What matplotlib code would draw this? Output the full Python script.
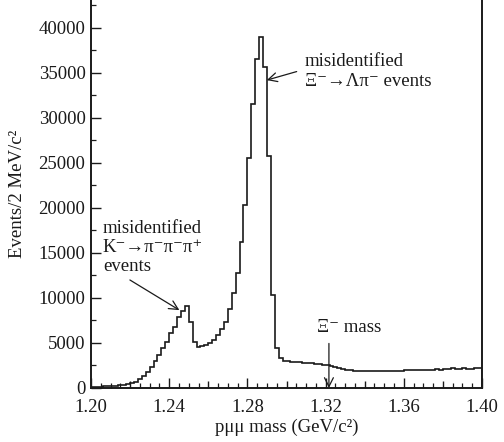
import numpy as np
import matplotlib
matplotlib.use("Agg")
import matplotlib.pyplot as plt
from matplotlib.ticker import MultipleLocator, FuncFormatter

# --- DATA (events per 2 MeV/c^2 bin, 1.20 - 1.40 GeV/c^2) ---
bin_lo = 1.20
bin_width = 0.002
counts = [
    120, 140, 160, 180, 200, 230, 260, 300, 350, 420,
    520, 700, 1000, 1330, 1810, 2370, 3040, 3670, 4410, 5070,
    6070, 6810, 7920, 8590, 9140, 7300, 5070, 4600, 4650, 4780,
    4960, 5330, 5890, 6520, 7370, 8740, 10600, 12740, 16250, 20330,
    25500, 31600, 36600, 39000, 35700, 25800, 10300, 4400, 3300, 3000,
    2950, 2900, 2880, 2850, 2820, 2780, 2750, 2700, 2680, 2600,
    2520, 2420, 2330, 2230, 2120, 2030, 1960, 1920, 1900, 1890,
    1880, 1890, 1870, 1880, 1900, 1880, 1870, 1890, 1880, 1900,
    1950, 1980, 1960, 1990, 2000, 2020, 1990, 2030, 2060, 2050,
    2080, 2110, 2170, 2100, 2130, 2180, 2140, 2120, 2180, 2200,
]
x_ticks = [1.20, 1.24, 1.28, 1.32, 1.36, 1.40]
xi_mass = 1.3217

edges = bin_lo + bin_width * np.arange(len(counts) + 1)

FONT = ['Liberation Serif', 'DejaVu Serif']
INK = '#1a1a1a'
plt.rcParams['font.family'] = FONT

fig = plt.figure(figsize=(5.04, 4.42), dpi=100)
ax = fig.add_axes([91 / 504, 54 / 442, 391 / 504, 388 / 442])

ax.stairs(counts, edges, color=INK, lw=1.2, baseline=0)

ax.set_xlim(1.20, 1.40)
ax.set_ylim(0, 43100)

# --- AXES STYLE ---
ax.spines['top'].set_visible(False)
for s in ['left', 'bottom', 'right']:
    ax.spines[s].set_color(INK)
    ax.spines[s].set_linewidth(1.4)

ax.xaxis.set_major_locator(MultipleLocator(0.02))
ax.xaxis.set_minor_locator(MultipleLocator(0.005))
ax.xaxis.set_major_formatter(FuncFormatter(
    lambda v, p: f"{v:.2f}" if min(abs(v - t) for t in x_ticks) < 1e-6 else ""))
ax.yaxis.set_major_locator(MultipleLocator(5000))
ax.yaxis.set_minor_locator(MultipleLocator(2500))
ax.yaxis.set_major_formatter(FuncFormatter(lambda v, p: f"{int(v)}"))

ax.tick_params(which='both', direction='in', colors=INK, labelsize=13.5,
               top=False, right=False)
ax.tick_params(which='major', length=7, width=1.0)
ax.tick_params(which='minor', length=3.5, width=0.9)
ax.tick_params(axis='x', pad=8)
ax.tick_params(axis='y', pad=4)

fig.canvas.draw()
for t in ax.xaxis.get_major_ticks():
    v = t.get_loc()
    if min(abs(v - tt) for tt in x_ticks) > 1e-6:
        t.tick1line.set_markersize(5)

ax.set_xlabel("pμμ mass (GeV/c²)", fontsize=13.5, color=INK, labelpad=2)
ax.set_ylabel("Events/2 MeV/c²", fontsize=13.5, color=INK, labelpad=9)

# --- ANNOTATIONS ---
arrow = dict(arrowstyle='->', lw=0.9, color=INK, mutation_scale=16,
             shrinkA=0, shrinkB=0)

ax.text(1.3095, 37200, "misidentified\nΞ⁻→Λπ⁻ events", fontsize=13.5,
        color=INK, va='top', ha='left', linespacing=1.2)
ax.annotate("", xy=(1.2899, 34200), xytext=(1.3052, 35150), arrowprops=arrow)

ax.text(1.2061, 18700, "misidentified\nK⁻→π⁻π⁻π⁺\nevents", fontsize=13.5,
        color=INK, va='top', ha='left', linespacing=1.15)
ax.annotate("", xy=(1.2452, 8650), xytext=(1.2199, 12000), arrowprops=arrow)

ax.text(1.332, 6700, "Ξ⁻ mass", fontsize=13.5, color=INK,
        ha='center', va='center')
ax.annotate("", xy=(xi_mass, 0), xytext=(xi_mass, 4950), arrowprops=arrow)

fig.savefig("out.png", dpi=100)
